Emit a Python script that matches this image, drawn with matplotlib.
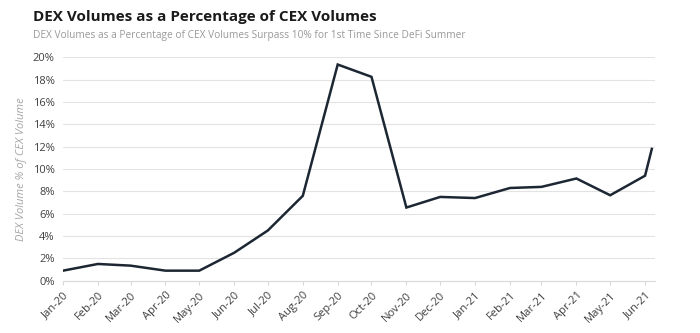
import matplotlib
matplotlib.use("Agg")
import matplotlib.pyplot as plt
import matplotlib.dates as mdates
import numpy as np
import pandas as pd
from matplotlib.ticker import FuncFormatter, MultipleLocator

dates = ["2020-01-01", "2020-02-01", "2020-03-01", "2020-04-01", "2020-05-01",
         "2020-06-01", "2020-07-01", "2020-08-01", "2020-09-01", "2020-10-01",
         "2020-11-01", "2020-12-01", "2021-01-01", "2021-02-01", "2021-03-01",
         "2021-04-01", "2021-05-01", "2021-06-01", "2021-06-07"]
pct = [0.9, 1.5, 1.35, 0.9, 0.9, 2.5, 4.5, 7.6, 19.35, 18.25,
       6.55, 7.5, 7.4, 8.3, 8.4, 9.15, 7.65, 9.4, 11.8]
title = "DEX Volumes as a Percentage of CEX Volumes"
subtitle = "DEX Volumes as a Percentage of CEX Volumes Surpass 10% for 1st Time Since DeFi Summer"
ylabel = "DEX Volume % of CEX Volume"

plt.rcParams['font.family'] = ['Open Sans', 'DejaVu Sans']

x = pd.to_datetime(dates)
fig = plt.figure(figsize=(7, 3.33), dpi=100)
ax = fig.add_axes([0.09, 0.157, 0.846, 0.671])
ax.plot(x, pct, color="#1d2733", lw=1.8, solid_joinstyle="miter")

ax.set_ylim(0, 20)
ax.yaxis.set_major_locator(MultipleLocator(2))
ax.yaxis.set_major_formatter(FuncFormatter(lambda v, p: f"{v:.0f}%"))
ax.set_xlim(pd.Timestamp("2020-01-01"), pd.Timestamp("2021-06-10"))
ax.xaxis.set_major_locator(mdates.MonthLocator())
ax.xaxis.set_major_formatter(mdates.DateFormatter("%b-%y"))

ax.grid(axis="y", color="#e3e3e3", lw=0.8)
ax.set_axisbelow(True)
for s in ["top", "right", "left"]:
    ax.spines[s].set_visible(False)
ax.spines["bottom"].set_color("#d9d9d9")
ax.tick_params(axis="y", length=0, labelsize=8, colors="#404040", pad=6)
ax.tick_params(axis="x", length=3, color="#d9d9d9", labelsize=8, labelcolor="#404040")
for lab in ax.get_xticklabels():
    lab.set_rotation(45)
    lab.set_ha("right")
    lab.set_rotation_mode("anchor")

ax.set_ylabel(ylabel, fontsize=8, style="italic", color="#a6a6a6", labelpad=6)
ax.yaxis.set_label_coords(-0.06, 0.5)

fig.text(0.047, 0.948, title, fontsize=11, fontweight="bold", color="#1a1a1a", va="center")
fig.text(0.047, 0.893, subtitle, fontsize=7.3, color="#999999", va="center")

fig.savefig("out.png", dpi=100, facecolor="white")
